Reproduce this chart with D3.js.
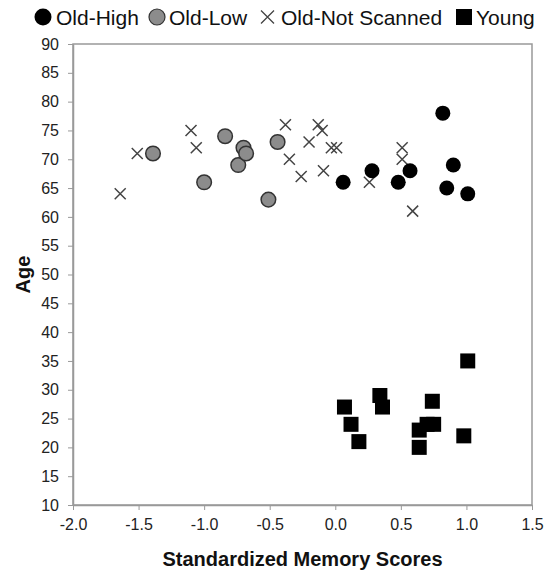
<!DOCTYPE html>
<html>
<head>
    <script src="https://d3js.org/d3.v7.min.js"></script>
    <style>
        body { margin: 0; background: white; font-family: "Liberation Sans", Arial, sans-serif; }
        .tick text { font-family: "Liberation Sans", Arial, sans-serif; }
    </style>
</head>
<body>
    <svg id="chart" width="544" height="570"></svg>
    <script>
        // data
        var oldHighX = [0.06, 0.28, 0.48, 0.57, 0.82, 0.85, 0.90, 1.01];
        var oldHighY = [66, 68, 66, 68, 78, 65, 69, 64];

        var oldLowX = [-1.39, -1.00, -0.84, -0.74, -0.70, -0.68, -0.51, -0.44];
        var oldLowY = [71, 66, 74, 69, 72, 71, 63, 73];

        var notScannedX = [-1.64, -1.51, -1.10, -1.06, -0.38, -0.35, -0.26, -0.20, -0.13, -0.10, -0.09, -0.03, 0.01, 0.26, 0.51, 0.51, 0.59];
        var notScannedY = [64, 71, 75, 72, 76, 70, 67, 73, 76, 75, 68, 72, 72, 66, 72, 70, 61];

        var youngX = [0.07, 0.12, 0.18, 0.34, 0.36, 0.64, 0.64, 0.70, 0.74, 0.75, 0.98, 1.01];
        var youngY = [27, 24, 21, 29, 27, 23, 20, 24, 28, 24, 22, 35];

        var xTicks = [-2.0, -1.5, -1.0, -0.5, 0.0, 0.5, 1.0, 1.5];
        var yTicks = [10, 15, 20, 25, 30, 35, 40, 45, 50, 55, 60, 65, 70, 75, 80, 85, 90];

        var svg = d3.select("#chart");
        var margin = { left: 73, right: 532, top: 44, bottom: 505 };

        var x = d3.scaleLinear().domain([-2, 1.5]).range([margin.left, margin.right]);
        var y = d3.scaleLinear().domain([10, 90]).range([margin.bottom, margin.top]);

        var axisColor = "#999";

        // plot frame
        svg.append("rect")
            .attr("x", margin.left).attr("y", margin.top)
            .attr("width", margin.right - margin.left).attr("height", margin.bottom - margin.top)
            .attr("fill", "none").attr("stroke", axisColor).attr("stroke-width", 1.5);

        var xAxis = svg.append("g")
            .attr("transform", "translate(0," + margin.bottom + ")")
            .call(d3.axisBottom(x).tickValues(xTicks).tickSize(5).tickSizeOuter(0).tickPadding(9));
        var yAxis = svg.append("g")
            .attr("transform", "translate(" + margin.left + ",0)")
            .call(d3.axisLeft(y).tickValues(yTicks).tickSize(5).tickSizeOuter(0).tickPadding(9));

        [xAxis, yAxis].forEach(function (a) {
            a.select(".domain").attr("stroke", axisColor).attr("stroke-width", 1.5);
            a.selectAll(".tick line").attr("stroke", axisColor);
            a.selectAll(".tick text").attr("fill", "#222").style("font-size", "16px");
        });
        xAxis.selectAll(".tick text").text(function (d) { return d < 0 ? "-" + Math.abs(d).toFixed(1) : d.toFixed(1); });

        // axis titles
        svg.append("text")
            .attr("x", (margin.left + margin.right) / 2).attr("y", 566)
            .attr("text-anchor", "middle")
            .style("font-size", "20px").style("font-weight", "bold").attr("fill", "#111")
            .text("Standardized Memory Scores");
        svg.append("text")
            .attr("transform", "translate(30," + ((margin.top + margin.bottom) / 2) + ") rotate(-90)")
            .attr("text-anchor", "middle")
            .style("font-size", "20px").style("font-weight", "bold").attr("fill", "#111")
            .text("Age");

        var plot = svg.append("g");

        // old - not scanned
        var xs = 5.5;
        plot.selectAll("path.ns").data(d3.zip(notScannedX, notScannedY)).enter().append("path")
            .attr("class", "ns")
            .attr("d", function (d) {
                var cx = x(d[0]), cy = y(d[1]);
                return "M" + (cx - xs) + "," + (cy - xs) + "L" + (cx + xs) + "," + (cy + xs) +
                    "M" + (cx - xs) + "," + (cy + xs) + "L" + (cx + xs) + "," + (cy - xs);
            })
            .attr("stroke", "#444").attr("stroke-width", 1.5).attr("fill", "none");

        // old - low
        plot.selectAll("circle.low").data(d3.zip(oldLowX, oldLowY)).enter().append("circle")
            .attr("class", "low")
            .attr("cx", function (d) { return x(d[0]); })
            .attr("cy", function (d) { return y(d[1]); })
            .attr("r", 7.3)
            .attr("fill", "#8c8c8c").attr("stroke", "#333").attr("stroke-width", 1.5);

        // old - high
        plot.selectAll("circle.high").data(d3.zip(oldHighX, oldHighY)).enter().append("circle")
            .attr("class", "high")
            .attr("cx", function (d) { return x(d[0]); })
            .attr("cy", function (d) { return y(d[1]); })
            .attr("r", 7.5)
            .attr("fill", "#000");

        // young
        var sq = 15;
        plot.selectAll("rect.young").data(d3.zip(youngX, youngY)).enter().append("rect")
            .attr("class", "young")
            .attr("x", function (d) { return x(d[0]) - sq / 2; })
            .attr("y", function (d) { return y(d[1]) - sq / 2; })
            .attr("width", sq).attr("height", sq)
            .attr("fill", "#000");

        // legend
        var lg = svg.append("g").style("font-size", "21px").attr("fill", "#111");
        var ly = 17;
        lg.append("circle").attr("cx", 43).attr("cy", ly).attr("r", 8.5).attr("fill", "#000");
        lg.append("text").attr("x", 56).attr("y", ly + 7.5).text("Old-High");
        lg.append("circle").attr("cx", 157).attr("cy", ly).attr("r", 8)
            .attr("fill", "#8c8c8c").attr("stroke", "#333").attr("stroke-width", 1.2);
        lg.append("text").attr("x", 169).attr("y", ly + 7.5).text("Old-Low");
        lg.append("path")
            .attr("d", "M" + 261 + "," + (ly - 6.5) + "l13,13M" + 261 + "," + (ly + 6.5) + "l13,-13")
            .attr("stroke", "#444").attr("stroke-width", 1.3);
        lg.append("text").attr("x", 281).attr("y", ly + 7.5).text("Old-Not Scanned");
        lg.append("rect").attr("x", 456).attr("y", ly - 8).attr("width", 16).attr("height", 16).attr("fill", "#000");
        lg.append("text").attr("x", 476).attr("y", ly + 7.5).text("Young");
    </script>
</body>
</html>
